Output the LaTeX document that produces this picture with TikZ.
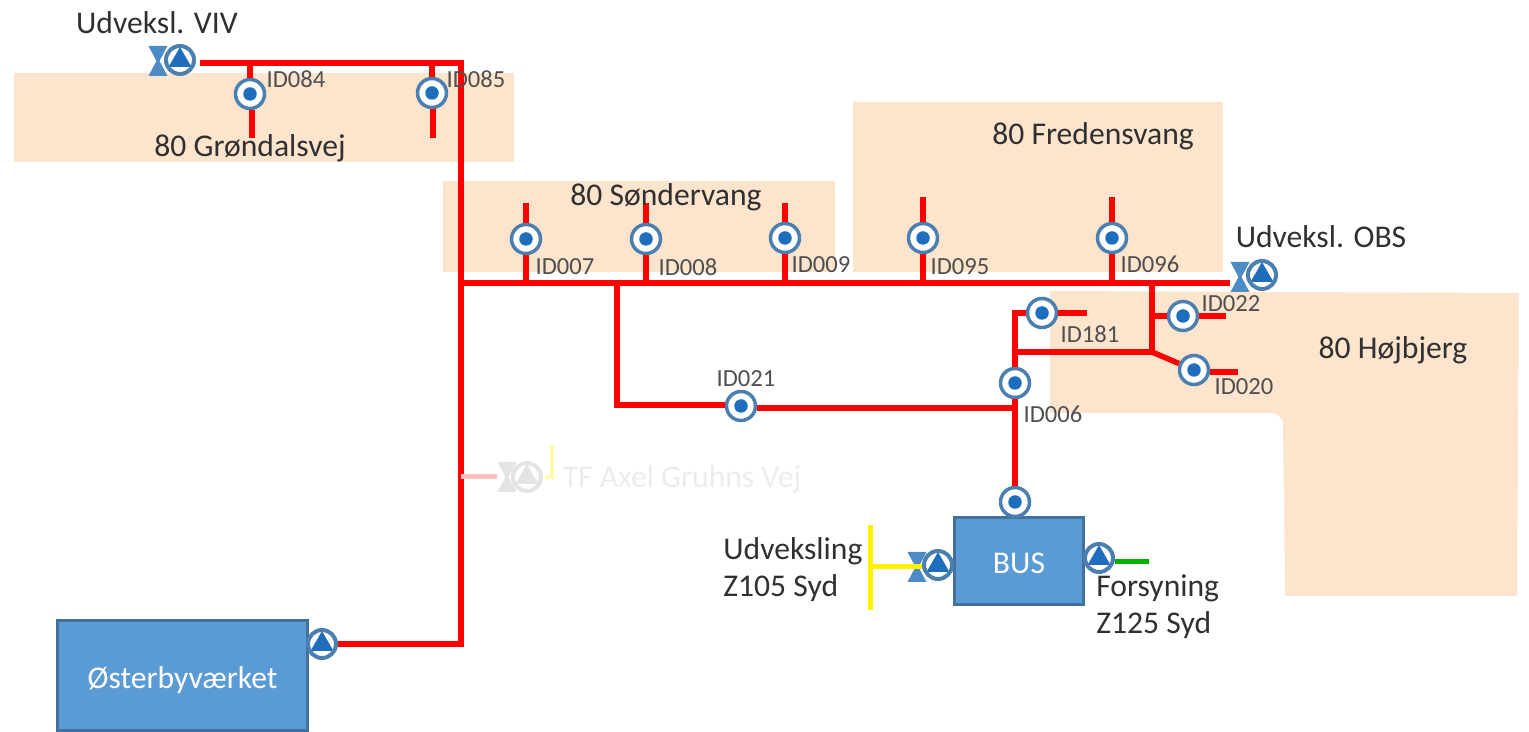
\documentclass[tikz,border=0pt]{standalone}
\usepackage{fontspec}
\setmainfont{Carlito}
\definecolor{areaorange}{HTML}{FDE4CD}
\definecolor{boxblue}{HTML}{5B9BD5}
\definecolor{edgeblue}{HTML}{41719C}
\definecolor{ringblue}{HTML}{4A7FAF}
\definecolor{valveblue}{HTML}{4D8BC6}
\definecolor{dotblue}{HTML}{1F6EBE}
\definecolor{textgrey}{HTML}{303030}
\definecolor{fadegrey}{HTML}{E4E4E4}
\definecolor{fadetext}{HTML}{ECECEC}
\definecolor{fadepink}{HTML}{FFBFC0}
\definecolor{fadeyellow}{HTML}{FFFBA8}
\tikzset{
  areafill/.style={fill=areaorange},
  redline/.style={draw=red, line width=0.11cm},
  yellowline/.style={draw=yellow, line width=0.1cm},
  greenline/.style={draw=green!70!black, line width=0.1cm},
  fadeline/.style={draw=fadepink, line width=0.1cm},
  arealabel/.style={font=\fontsize{18}{21}\selectfont, text=textgrey, inner sep=0pt},
  idlabel/.style={font=\fontsize{14}{16}\selectfont, text=textgrey!85, inner sep=0pt},
  station/.style={rectangle, draw=edgeblue, line width=0.06cm, fill=boxblue, text=white,
    font=\fontsize{18}{21}\selectfont, inner sep=0pt},
  gauge/.style={circle, draw=ringblue, line width=0.07cm, fill=white, minimum size=0.58cm, inner sep=0pt,
    path picture={\fill[dotblue] (path picture bounding box.center) circle (0.135cm);}},
  pumpbody/.style 2 args={circle, draw=#1, line width=0.08cm, fill=white, minimum size=0.56cm, inner sep=0pt,
    path picture={\fill[#2, shift={(path picture bounding box.center)}]
      (-0.23cm,-0.14cm) -- (0.23cm,-0.14cm) -- (0,0.26cm) -- cycle;}},
  pump/.style={pumpbody={ringblue}{dotblue}},
  fadepump/.style={pumpbody={fadegrey}{fadegrey}},
  valve/.style={rectangle, minimum width=0.38cm, minimum height=0.6cm, inner sep=0pt,
    path picture={\fill[#1, shift={(path picture bounding box.center)}]
      (-0.19cm,0.3cm) -- (0.19cm,0.3cm) -- (0.03cm,0) -- (0.19cm,-0.3cm) -- (-0.19cm,-0.3cm) -- (-0.03cm,0) -- cycle;}},
  valve/.default=valveblue
}
\begin{document}
\begin{tikzpicture}[x=0.02cm, y=-0.02cm]
    \useasboundingbox (0,0) rectangle (1529,732);

    % Draw the areas
    \fill[areafill] (14,73) rectangle (514,162);
    \fill[areafill] (443,181) rectangle (835,272);
    \fill[areafill] (853,102) rectangle (1223,272);
    \fill[areafill] (1050,291) -- (1519,293) -- (1517,596) -- (1285,596) -- (1283,424)
        to[out=90, in=0] (1271,413) -- (1050,413) -- cycle;

    % Place the stations
    \node[station, minimum width=5cm, minimum height=2.2cm] (oster) at (182.5,675.5) {\raisebox{-0.1cm}[\height][\depth]{Østerbyværket}};
    \node[station, minimum width=2.6cm, minimum height=1.76cm] (bus) at (1019,561) {\raisebox{-0.04cm}[\height][\depth]{BUS}};

    % Place the pumps and valves
    \node[pump] (pumpviv) at (180,60) {};
    \node[valve] (valveviv) at (158,61) {};
    \node[pump] (pumpobs) at (1262,275) {};
    \node[valve] (valveobs) at (1240,277) {};
    \node[pump] (pumposter) at (322,644) {};
    \node[valve] (valvesyd) at (917,567) {};
    \node[pump] (pumpfors) at (1099,558) {};
    \node[fadepump] (pumpaxel) at (527,477) {};
    \node[valve=fadegrey] (valveaxel) at (507,477) {};

    % Place the gauges
    \node[gauge] (id084) at (250,94) {};
    \node[gauge] (id085) at (432,93) {};
    \node[gauge] (id007) at (526,239) {};
    \node[gauge] (id008) at (646,239) {};
    \node[gauge] (id009) at (785,238) {};
    \node[gauge] (id095) at (923,238) {};
    \node[gauge] (id096) at (1112,238) {};
    \node[gauge] (id181) at (1042,313) {};
    \node[gauge] (id022) at (1183,316) {};
    \node[gauge] (id020) at (1194,370) {};
    \node[gauge] (id006) at (1015,383) {};
    \node[gauge] (id021) at (741,406) {};
    \node[gauge] (idbus) at (1015,502) {};

    % Define the junctions and free ends
    \coordinate (startviv) at (200,63);
    \coordinate (topright) at (461,63);
    \coordinate (j084) at (250,63);
    \coordinate (j085) at (432,63);
    \coordinate (e084) at (252,138);
    \coordinate (e085) at (433,138);
    \coordinate (cross) at (461,283);
    \coordinate (corner) at (461,644);
    \coordinate (axelj) at (461,477);
    \coordinate (j007) at (526,283);
    \coordinate (j008) at (646,283);
    \coordinate (j009) at (785,283);
    \coordinate (j095) at (923,283);
    \coordinate (j096) at (1112,283);
    \coordinate (j152) at (1152,283);
    \coordinate (e007) at (526,203);
    \coordinate (e008) at (646,203);
    \coordinate (e009) at (785,203);
    \coordinate (e095) at (923,197);
    \coordinate (e096) at (1112,197);
    \coordinate (j617) at (617,283);
    \coordinate (k617) at (617,405);
    \coordinate (j408) at (1015,408);
    \coordinate (j352) at (1015,352);
    \coordinate (k352) at (1152,352);
    \coordinate (j316) at (1152,316);
    \coordinate (k313) at (1015,313);
    \coordinate (e181) at (1087,313);
    \coordinate (e022) at (1226,316);
    \coordinate (e020) at (1238,372);
    \coordinate (yellowj) at (870,567);
    \coordinate (yellowa) at (870,525);
    \coordinate (yellowb) at (870,610);
    \coordinate (e125) at (1149,562);
    \coordinate (axela) at (552,445);
    \coordinate (axelb) at (552,477);
    \coordinate (axelc) at (545,477);

    % Draw the red pipes
    \draw[redline] (startviv) -- (topright) -- (corner) -- (pumposter);
    \draw[redline] (j084) -- (id084);
    \draw[redline] (e084 |- id084.south) -- (e084);
    \draw[redline] (j085) -- (id085);
    \draw[redline] (e085 |- id085.south) -- (e085);
    \draw[redline] (cross) -- (valveobs.west |- cross);
    \foreach \idnum in {007,008,009,095,096} {
        \draw[redline] (e\idnum) -- (id\idnum);
        \draw[redline] (id\idnum) -- (j\idnum);
    }
    \draw[redline] (j617) -- (k617) -- (id021.west |- k617);
    \draw[redline] (id021.east |- j408) -- (j408);
    \draw[redline] (id006) -- (idbus);
    \draw[redline] (id006) -- (k313) -- (id181);
    \draw[redline] (id181) -- (e181);
    \draw[redline] (j352) -- (k352) -- (j152);
    \draw[redline] (j316) -- (id022);
    \draw[redline] (id022) -- (e022);
    \draw[redline] (k352) -- (id020);
    \draw[redline] (id020.east |- e020) -- (e020);

    % Draw the other pipes
    \draw[yellowline] (yellowa) -- (yellowb);
    \draw[yellowline] (yellowj) -- (valvesyd.east);
    \draw[greenline] (pumpfors.east |- e125) -- (e125);
    \draw[fadeline] (axelj) -- (valveaxel);
    \draw[draw=fadeyellow, line width=0.08cm] (axela) -- (axelb) -- (axelc);

    % Place the pump over the yellow pipe
    \node[pump] (pumpsyd) at (938,565) {};

    % Place the labels
    \node[arealabel] (viv) at (157,23) {Udveksl. VIV};
    \node[arealabel] (obs) at (1321,237) {Udveksl. OBS};
    \node[arealabel] (grondal) at (250,148) {80 Grøndalsvej};
    \node[arealabel] (sonder) at (666,197) {80 Søndervang};
    \node[arealabel] (freden) at (1093,136) {80 Fredensvang};
    \node[arealabel] (hojbjerg) at (1393,350) {80 Højbjerg};
    \node[arealabel, text=fadetext] (axel) at (682,479) {TF Axel Gruhns Vej};
    \node[arealabel, align=left, anchor=west] (z105) at (723,570) {Udveksling\\Z105 Syd};
    \node[arealabel, align=left, anchor=west] (z125) at (1096,607) {Forsyning\\Z125 Syd};

    % Place the gauge labels
    \node[idlabel] (t084) at (296,79) {ID084};
    \node[idlabel] (t085) at (476,79) {ID085};
    \node[idlabel] (t007) at (565,267) {ID007};
    \node[idlabel] (t008) at (688,267) {ID008};
    \node[idlabel] (t009) at (821,265) {ID009};
    \node[idlabel] (t095) at (960,267) {ID095};
    \node[idlabel] (t096) at (1150,264) {ID096};
    \node[idlabel] (t022) at (1231,304) {ID022};
    \node[idlabel] (t181) at (1090,334) {ID181};
    \node[idlabel] (t020) at (1244,387) {ID020};
    \node[idlabel] (t006) at (1053,414) {ID006};
    \node[idlabel] (t021) at (746,379) {ID021};
\end{tikzpicture}
\end{document}
